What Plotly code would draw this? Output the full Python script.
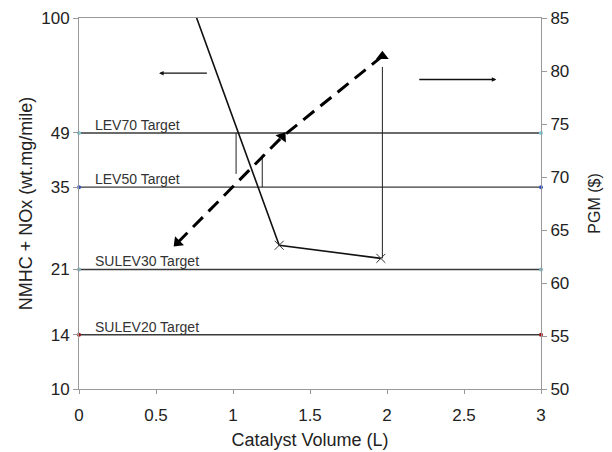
import math
import plotly.graph_objects as go

# ---- data ----
vol_nmhc = [0.65, 1.30, 1.96]
nmhc_nox = [135.0, 24.4, 22.5]

vol_pgm = [0.64, 1.32, 1.97]
pgm_cost = [63.8, 73.8, 81.4]

target_names = ["LEV70 Target", "LEV50 Target", "SULEV30 Target", "SULEV20 Target"]
target_values = [49, 35, 21, 14]
target_end_colors = ["#7fd3e0", "#3050c0", "#7fb8c0", "#a01010"]
target_x = [0, 3]

# vertical indicator segments (x, y_top, y_bottom) on the left axis
seg_x = [1.02, 1.19, 1.97]
seg_top = [49, 42.8, 73.8]
seg_bot = [38.0, 35, 22.5]

left_ticks = [10, 14, 21, 35, 49, 100]
right_ticks = [50, 55, 60, 65, 70, 75, 80, 85]
x_ticks = [0, 0.5, 1, 1.5, 2, 2.5, 3]
x_tick_text = ["0", "0.5", "1", "1.5", "2", "2.5", "3"]

FONT = "Liberation Sans, Arial, sans-serif"
fig = go.Figure()

# target lines
for name, val, col in zip(target_names, target_values, target_end_colors):
    fig.add_trace(go.Scatter(
        x=target_x, y=[val, val], mode="lines+markers",
        line=dict(color="#3a3a3a", width=1.4),
        marker=dict(color=col, size=4, symbol="circle"),
        showlegend=False, hoverinfo="skip", cliponaxis=False))

# vertical segments
for sx, st, sb in zip(seg_x, seg_top, seg_bot):
    fig.add_trace(go.Scatter(
        x=[sx, sx], y=[st, sb], mode="lines",
        line=dict(color="#222", width=1),
        showlegend=False, hoverinfo="skip"))

# NMHC + NOx (solid)
fig.add_trace(go.Scatter(
    x=vol_nmhc, y=nmhc_nox, mode="lines+markers",
    line=dict(color="#111", width=1.6),
    marker=dict(symbol="x-thin-open", size=9,
                line=dict(color="#333", width=1), color="#333"),
    showlegend=False))

# PGM (dashed)
fig.add_trace(go.Scatter(
    x=vol_pgm, y=pgm_cost, yaxis="y2", mode="lines+markers",
    line=dict(color="#000", width=3, dash="14px,8px"),
    marker=dict(symbol="triangle-up", size=11, color="#000", angle=[225, 35, 0]),
    showlegend=False))

annotations = []
for name, val in zip(target_names, target_values):
    annotations.append(dict(
        x=0.09, y=math.log10(val), xref="x", yref="y", text=name,
        showarrow=False, xanchor="left", yanchor="bottom", yshift=-2,
        font=dict(family=FONT, size=14, color="#333")))

# direction arrows
annotations.append(dict(x=0.52, y=math.log10(71), ax=0.84, ay=math.log10(71),
                        xref="x", yref="y", axref="x", ayref="y", text="",
                        showarrow=True, arrowhead=2, arrowsize=0.7, arrowwidth=1.3,
                        arrowcolor="#111"))
annotations.append(dict(x=2.71, y=79.2, ax=2.20, ay=79.2,
                        xref="x", yref="y2", axref="x", ayref="y2", text="",
                        showarrow=True, arrowhead=2, arrowsize=0.7, arrowwidth=1.3,
                        arrowcolor="#111"))

fig.update_layout(
    width=612, height=452,
    margin=dict(l=71, r=79, t=10, b=71, autoexpand=False),
    paper_bgcolor="white", plot_bgcolor="white",
    font=dict(family=FONT, size=17, color="#222"),
    annotations=annotations,
    xaxis=dict(range=[0, 3], tickvals=x_ticks, ticktext=x_tick_text, automargin=False,
               showgrid=False, zeroline=False, showline=True, linecolor="#999", linewidth=1,
               mirror=True, ticks="outside", ticklen=4, tickcolor="#999",
               ticklabelstandoff=7,
               title=dict(text="Catalyst Volume (L)", font=dict(size=18), standoff=8),
               tickfont=dict(size=17)),
    yaxis=dict(type="log", range=[1, 2], tickvals=left_ticks, automargin=False,
               ticktext=[str(v) for v in left_ticks],
               showgrid=False, zeroline=False, showline=True, linecolor="#999", linewidth=1,
               ticks="outside", ticklen=5, tickcolor="#999",
               title=dict(text="NMHC + NOx (wt.mg/mile)", font=dict(size=18), standoff=3),
               tickfont=dict(size=17)),
    yaxis2=dict(overlaying="y", side="right", range=[50, 85], tickvals=right_ticks,
                automargin=False,
                showgrid=False, zeroline=False, showline=True, linecolor="#999", linewidth=1,
                ticks="outside", ticklen=5, tickcolor="#999",
                title=dict(text="PGM ($)", font=dict(size=16), standoff=20),
                tickfont=dict(size=17)),
)

fig.write_html("out.html")
